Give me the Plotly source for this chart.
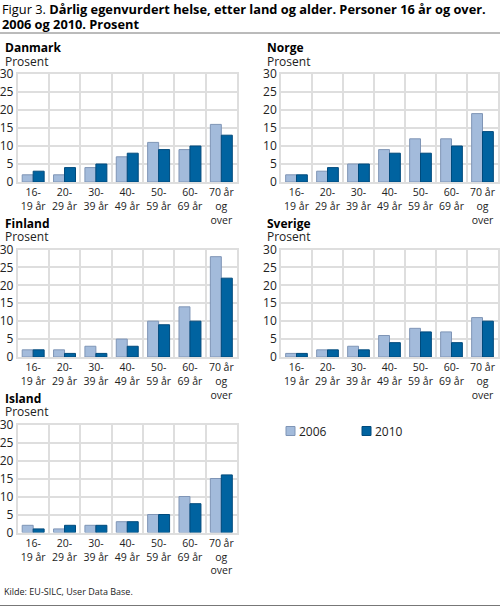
import plotly.graph_objects as go

# data
aldersgrupper = ["16-<br>19 år", "20-<br>29 år", "30-<br>39 år", "40-<br>49 år",
                 "50-<br>59 år", "60-<br>69 år", "70 år<br>og<br>over"]
land = ["Danmark", "Norge", "Finland", "Sverige", "Island"]

danmark_2006 = [2, 2, 4, 7, 11, 9, 16]
danmark_2010 = [3, 4, 5, 8, 9, 10, 13]
norge_2006 = [2, 3, 5, 9, 12, 12, 19]
norge_2010 = [2, 4, 5, 8, 8, 10, 14]
finland_2006 = [2, 2, 3, 5, 10, 14, 28]
finland_2010 = [2, 1, 1, 3, 9, 10, 22]
sverige_2006 = [1, 2, 3, 6, 8, 7, 11]
sverige_2010 = [1, 2, 2, 4, 7, 4, 10]
island_2006 = [2, 1, 2, 3, 5, 10, 15]
island_2010 = [1, 2, 2, 3, 5, 8, 16]

verdier = {
    "Danmark": (danmark_2006, danmark_2010),
    "Norge": (norge_2006, norge_2010),
    "Finland": (finland_2006, finland_2010),
    "Sverige": (sverige_2006, sverige_2010),
    "Island": (island_2006, island_2010),
}

W, H = 500, 607
FONT = "Open Sans"

# pixel boxes of each panel (left, right, top, bottom)
boxes = {
    "Danmark": (17.5, 237, 74, 182),
    "Norge": (281, 498, 74, 182),
    "Finland": (17.5, 237, 249.5, 357),
    "Sverige": (281, 498, 249.5, 357),
    "Island": (17.5, 237, 424.5, 532.5),
}

fig = go.Figure()
annotations = []

for i, navn in enumerate(land):
    n = "" if i == 0 else str(i + 1)
    v2006, v2010 = verdier[navn]
    fig.add_trace(go.Bar(x=aldersgrupper, y=v2006, name="2006",
                         marker=dict(color="#a3bbdb", line=dict(color="#7f95b6", width=1)),
                         xaxis="x" + n, yaxis="y" + n, showlegend=False))
    fig.add_trace(go.Bar(x=aldersgrupper, y=v2010, name="2010",
                         marker=dict(color="#0063a0", line=dict(color="#004a7c", width=1)),
                         xaxis="x" + n, yaxis="y" + n, showlegend=False))
    l, r, t, b = boxes[navn]
    fig.update_layout(**{
        "xaxis" + n: dict(domain=[l / W, r / W], anchor="y" + n, type="category",
                          tickson="boundaries", ticks="", showgrid=True, automargin=False,
                          tickangle=0, gridcolor="#dedede", gridwidth=1.5, showline=True,
                          mirror=True, linecolor="#dedede", linewidth=1.5,
                          tickfont=dict(family=FONT, size=10.5, color="#222")),
        "yaxis" + n: dict(domain=[1 - b / H, 1 - t / H], anchor="x" + n, range=[0, 30],
                          dtick=5, showgrid=True, gridcolor="#dedede", gridwidth=1.5,
                          zeroline=False, showline=True, mirror=True, linecolor="#dedede",
                          linewidth=1.5, ticks="", automargin=False,
                          tickfont=dict(family=FONT, size=12, color="#222")),
    })
    tx = l - 15 if l < 100 else l - 16
    annotations.append(dict(text="<b>" + navn + "</b>", x=tx / W, y=1 - (t - 26) / H,
                            xref="paper", yref="paper", xanchor="left", yanchor="middle",
                            showarrow=False, font=dict(family=FONT, size=12, color="#000")))
    annotations.append(dict(text="Prosent", x=tx / W, y=1 - (t - 13) / H,
                            xref="paper", yref="paper", xanchor="left", yanchor="middle",
                            showarrow=False, font=dict(family=FONT, size=12, color="#222")))

# title and source
annotations.append(dict(text="Figur 3. <b>Dårlig egenvurdert helse, etter land og alder. Personer 16 år og over.</b>",
                        x=0, y=1 - 9 / H, xref="paper", yref="paper", xanchor="left",
                        yanchor="middle", showarrow=False,
                        font=dict(family=FONT, size=12.8, color="#000")))
annotations.append(dict(text="<b>2006 og 2010. Prosent</b>",
                        x=0, y=1 - 24 / H, xref="paper", yref="paper", xanchor="left",
                        yanchor="middle", showarrow=False,
                        font=dict(family=FONT, size=12.8, color="#000")))
annotations.append(dict(text="Kilde: EU-SILC, User Data Base.",
                        x=2 / W, y=1 - 591 / H, xref="paper", yref="paper", xanchor="left",
                        yanchor="middle", showarrow=False,
                        font=dict(family=FONT, size=9, color="#222")))

# legend entries
for aar, px in [("2006", 286), ("2010", 362)]:
    annotations.append(dict(text=aar, x=(px + 11) / W, y=1 - 431 / H, xref="paper",
                            yref="paper", xanchor="left", yanchor="middle", showarrow=False,
                            font=dict(family=FONT, size=12, color="#222")))

shapes = [
    dict(type="line", xref="paper", yref="paper", x0=0, x1=1, y0=1 - 33 / H, y1=1 - 33 / H,
         line=dict(color="#777", width=1)),
    dict(type="line", xref="paper", yref="paper", x0=0, x1=1, y0=1 - 605.5 / H, y1=1 - 605.5 / H,
         line=dict(color="#777", width=1)),
    dict(type="rect", xref="paper", yref="paper", x0=286 / W, x1=295 / W,
         y0=1 - 435.5 / H, y1=1 - 426.5 / H, fillcolor="#a3bbdb",
         line=dict(color="#7f95b6", width=1)),
    dict(type="rect", xref="paper", yref="paper", x0=362 / W, x1=371 / W,
         y0=1 - 435.5 / H, y1=1 - 426.5 / H, fillcolor="#0063a0",
         line=dict(color="#004a7c", width=1)),
]

fig.update_layout(width=W, height=H, margin=dict(l=0, r=0, t=0, b=0),
                  paper_bgcolor="white", plot_bgcolor="white", barmode="group",
                  bargap=0.3, bargroupgap=0, annotations=annotations, shapes=shapes,
                  font=dict(family=FONT))

# page body has a default 8px margin; drop it so the figure fills the window
fig.write_html("out.html", config={"displayModeBar": False},
               post_script="document.body.style.margin='0';")
